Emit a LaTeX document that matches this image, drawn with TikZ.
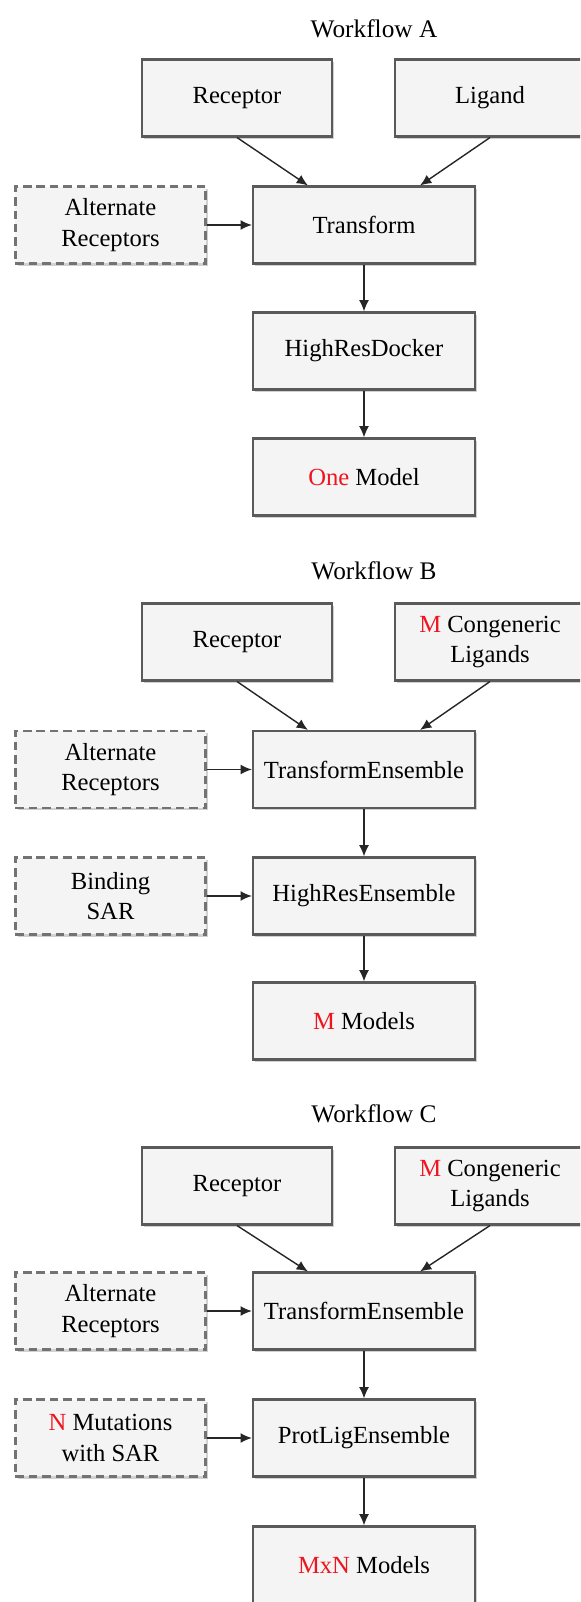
\documentclass[tikz,border=0pt]{standalone}
\usepackage{fontspec}
\setmainfont{Liberation Serif}
\usepackage{tikz}
\usetikzlibrary{arrows.meta,shadows,calc}

\definecolor{boxfill}{HTML}{F4F4F4}
\definecolor{boxline}{HTML}{5A5A5A}
\definecolor{hl}{HTML}{F0141E}

\tikzset{
	stagebox/.style={draw=boxline, line width=1.6pt, fill=boxfill, inner sep=0pt,
		minimum height=1.92cm, align=center,
		font=\fontsize{17.5}{21.5}\selectfont,
		drop shadow={shadow xshift=0.06cm, shadow yshift=-0.06cm, opacity=0.3, fill=black!60}},
	inbox/.style={stagebox, minimum width=4.75cm},
	mainbox/.style={stagebox, minimum width=5.55cm},
	optbox/.style={stagebox, dash pattern=on 6pt off 3.5pt, draw=boxline!85, minimum width=4.75cm},
	title/.style={font=\fontsize{18}{21.5}\selectfont},
	flow/.style={-{Latex[length=8pt,width=7pt]}, line width=1pt, draw=black!85},
}

\begin{document}
\begin{tikzpicture}[x=0.025cm, y=-0.025cm]
				\useasboundingbox (0,0) rectangle (580,1602);
				\clip (0,0) rectangle (580,1602);
				
				% Workflow A
				\node[title] (titleA) at (374, 29) {Workflow A};
				\node[inbox] (recA) at (237, 98) {Receptor};
				\node[inbox] (ligA) at (490, 98) {Ligand};
				\node[optbox] (altA) at (110.5, 225) {Alternate\\Receptors};
				\node[mainbox] (trA) at (364, 225) {Transform};
				\node[mainbox] (hrA) at (364, 351) {HighResDocker};
				\node[mainbox] (outA) at (364, 477) {\textcolor{hl}{One} Model};
				
				\draw[flow] (recA.south) -- ($(trA.north west)!0.25!(trA.north east)$);
				\draw[flow] (ligA.south) -- ($(trA.north west)!0.75!(trA.north east)$);
				\draw[flow] (altA.east) -- (trA.west);
				\draw[flow] (trA.south) -- (hrA.north);
				\draw[flow] (hrA.south) -- (outA.north);
				
				% Workflow B
				\node[title] (titleB) at (374, 571) {Workflow B};
				\node[inbox] (recB) at (237, 642) {Receptor};
				\node[inbox] (ligB) at (490, 642) {\textcolor{hl}{M} Congeneric\\Ligands};
				\node[optbox] (altB) at (110.5, 769.5) {Alternate\\Receptors};
				\node[mainbox] (trB) at (364, 769.5) {TransformEnsemble};
				\node[optbox] (sarB) at (110.5, 896) {Binding\\SAR};
				\node[mainbox] (hrB) at (364, 896) {HighResEnsemble};
				\node[mainbox] (outB) at (364, 1021) {\textcolor{hl}{M} Models};
				
				\draw[flow] (recB.south) -- ($(trB.north west)!0.25!(trB.north east)$);
				\draw[flow] (ligB.south) -- ($(trB.north west)!0.75!(trB.north east)$);
				\draw[flow] (altB.east) -- (trB.west);
				\draw[flow] (sarB.east) -- (hrB.west);
				\draw[flow] (trB.south) -- (hrB.north);
				\draw[flow] (hrB.south) -- (outB.north);
				
				% Workflow C
				\node[title] (titleC) at (374, 1114) {Workflow C};
				\node[inbox] (recC) at (237, 1186) {Receptor};
				\node[inbox] (ligC) at (490, 1186) {\textcolor{hl}{M} Congeneric\\Ligands};
				\node[optbox] (altC) at (110.5, 1311) {Alternate\\Receptors};
				\node[mainbox] (trC) at (364, 1311) {TransformEnsemble};
				\node[optbox] (mutC) at (110.5, 1438) {\textcolor{hl}{N} Mutations\\with SAR};
				\node[mainbox] (plC) at (364, 1438) {ProtLigEnsemble};
				\node[mainbox] (outC) at (364, 1565) {\textcolor{hl}{MxN} Models};
				
				\draw[flow] (recC.south) -- ($(trC.north west)!0.25!(trC.north east)$);
				\draw[flow] (ligC.south) -- ($(trC.north west)!0.75!(trC.north east)$);
				\draw[flow] (altC.east) -- (trC.west);
				\draw[flow] (mutC.east) -- (plC.west);
				\draw[flow] (trC.south) -- (plC.north);
				\draw[flow] (plC.south) -- (outC.north);
			\end{tikzpicture}
\end{document}
